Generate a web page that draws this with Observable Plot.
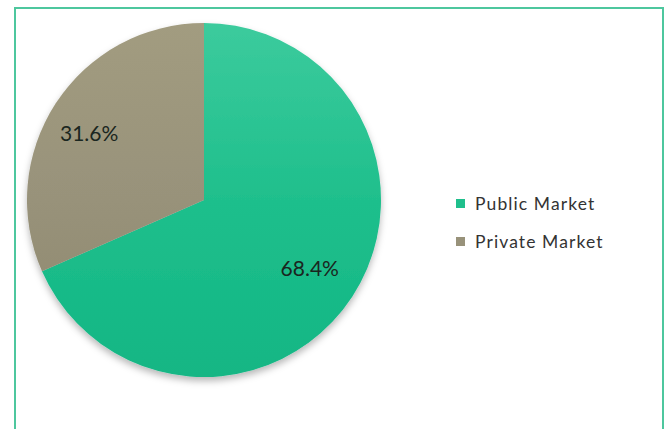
<!DOCTYPE html>
<html>
<head>
<meta charset="utf-8">
<script src="https://cdn.jsdelivr.net/npm/d3@7"></script>
<script src="https://cdn.jsdelivr.net/npm/@observablehq/plot@0.6"></script>
<style>
  html, body { margin: 0; padding: 0; background: #fff; width: 665px; height: 429px; overflow: hidden; }
  #frame { position: absolute; left: 14px; top: 7px; width: 646px; height: 440px; border: 2px solid #4ec79e; box-sizing: content-box; }
  #chart { position: absolute; left: 0; top: 0; }
  #legend { position: absolute; left: 456px; top: 192px; font-family: Lato, "Open Sans", sans-serif; font-size: 17.5px; color: #333; letter-spacing: 1.1px; }
  #legend .row { display: flex; align-items: center; height: 22px; margin-bottom: 16px; }
  #legend .sw { width: 9px; height: 9px; margin-right: 10px; }
</style>
</head>
<body>
<div id="frame"></div>
<div id="chart"></div>
<div id="legend"></div>
<script>
const categories = ["Public Market", "Private Market"];
const shares = [68.4, 31.6];
const labels = ["68.4%", "31.6%"];
const colors = ["#1fbf8c", "#98927a"];
const colorsTop = ["#3ccb9d", "#a29c80"];
const colorsBottom = ["#12b684", "#8d876d"];

const rows = categories.map((c, i) => ({category: c, share: shares[i], label: labels[i], i}));
const arcs = d3.pie().sort(null).value(d => d.share)(rows);

// label anchor points computed from the slices (unit-radius data space)
const labelRadius = [0.71, 0.75];
const labelAngleShift = [0, -0.06];
const labelData = arcs.map((a, i) => {
  const mid = (a.startAngle + a.endAngle) / 2 + labelAngleShift[i];
  return {label: a.data.label, x: Math.sin(mid) * labelRadius[i], y: Math.cos(mid) * labelRadius[i]};
});

function pieMark(index, scales, values, dimensions) {
  const cx = scales.x(0), cy = scales.y(0);
  const r = scales.x(1) - scales.x(0);
  const g = d3.create("svg:g");
  const defs = g.append("defs");
  const f = defs.append("filter").attr("id", "shadow").attr("x", "-20%").attr("y", "-20%").attr("width", "140%").attr("height", "140%");
  f.append("feDropShadow").attr("dx", 0).attr("dy", 4).attr("stdDeviation", 3.5).attr("flood-color", "#000").attr("flood-opacity", 0.28);
  arcs.forEach((a, i) => {
    const lg = defs.append("linearGradient").attr("id", "grad" + i)
      .attr("gradientUnits", "userSpaceOnUse")
      .attr("x1", 0).attr("y1", -r).attr("x2", 0).attr("y2", r);
    lg.append("stop").attr("offset", "0%").attr("stop-color", colorsTop[i]);
    lg.append("stop").attr("offset", "50%").attr("stop-color", colors[i]);
    lg.append("stop").attr("offset", "100%").attr("stop-color", colorsBottom[i]);
  });
  const arc = d3.arc().innerRadius(0).outerRadius(r);
  const pg = g.append("g").attr("transform", `translate(${cx},${cy})`).attr("filter", "url(#shadow)");
  pg.selectAll("path").data(arcs).join("path")
    .attr("d", arc)
    .attr("fill", (d, i) => `url(#grad${i})`);
  return g.node();
}

const plot = Plot.plot({
  width: 665,
  height: 429,
  margin: 0,
  x: {domain: [-1, 1], range: [27, 381], axis: null},
  y: {domain: [-1, 1], range: [377, 23], axis: null},
  marks: [
    pieMark,
    Plot.text(labelData, {x: "x", y: "y", text: "label", fontSize: 21, fill: "#1a2620", fontFamily: "Lato, 'Open Sans', sans-serif", letterSpacing: 1})
  ]
});
plot.style.background = "transparent";
document.getElementById("chart").appendChild(plot);

const legend = d3.select("#legend");
categories.forEach((c, i) => {
  const row = legend.append("div").attr("class", "row");
  row.append("div").attr("class", "sw").style("background", colors[i]);
  row.append("span").text(c);
});
</script>
</body>
</html>
